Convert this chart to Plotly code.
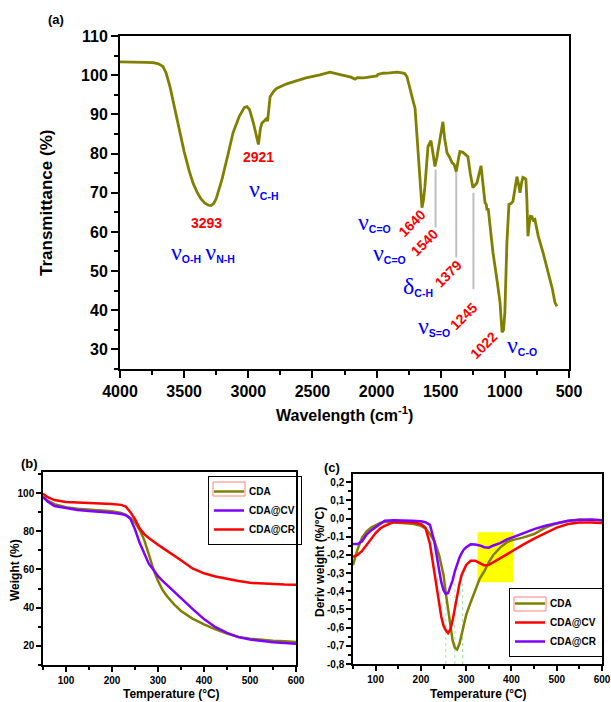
import plotly.graph_objects as go

# ---------------- data ----------------
# (a) FTIR spectrum
ftir_wn = [4000, 3900, 3800, 3743, 3700, 3665, 3640, 3610, 3570, 3532, 3500, 3460, 3430, 3400, 3370, 3340,
           3310, 3290, 3270, 3250, 3230, 3205, 3160, 3119, 3070, 3030, 3010, 2990, 2960, 2945, 2921, 2905,
           2893, 2870, 2854, 2850, 2840, 2830, 2800, 2776, 2700, 2651, 2550, 2441, 2363, 2300, 2200, 2168,
           2150, 2100, 2050, 1997, 1990, 1950, 1900, 1841, 1800, 1779, 1763, 1740, 1716, 1700, 1685, 1662,
           1646, 1635, 1623, 1599, 1576, 1560, 1545, 1530, 1506, 1483, 1470, 1451, 1430, 1412, 1395, 1379,
           1360, 1350, 1327, 1310, 1288, 1270, 1249, 1230, 1217, 1186, 1170, 1155, 1145, 1139, 1130, 1124,
           1093, 1062, 1038, 1022, 1010, 1000, 984, 968, 950, 937, 920, 906, 895, 882, 870, 859, 845, 836,
           828, 820, 810, 800, 789, 778, 766, 740, 703, 680, 649, 630, 610, 594]
ftir_t = [103.4, 103.4, 103.3, 103.2, 102.9, 102.2, 100.5, 97.0, 91.0, 85.3, 80.5, 75.5, 72.4, 70.2, 68.5, 67.4,
          66.8, 66.7, 67.2, 68.5, 70.5, 73.4, 79.5, 85.3, 89.5, 91.8, 92.0, 91.2, 87.8, 85.5, 82.3, 86.5,
          87.8, 88.5, 89.1, 88.2, 91.0, 94.5, 96.0, 96.7, 97.8, 98.3, 99.3, 100.1, 100.8, 100.3, 99.5, 99.0,
          99.4, 99.3, 99.5, 99.8, 100.2, 100.5, 100.6, 100.8, 100.6, 100.4, 99.6, 96.3, 93.5, 91.5, 84.0, 71.6,
          66.2, 68.0, 71.6, 81.8, 83.3, 80.0, 76.7, 79.0, 83.5, 88.1, 84.0, 80.2, 79.0, 77.7, 77.2, 75.4,
          79.0, 80.5, 80.3, 79.8, 79.2, 75.0, 71.3, 72.0, 72.6, 76.9, 72.0, 67.5, 67.0, 65.5, 66.0, 63.9,
          54.8, 47.9, 42.1, 34.4, 35.0, 39.5, 57.3, 67.0, 67.3, 67.8, 71.0, 74.1, 72.5, 70.0, 72.5, 73.9, 73.7, 73.4,
          68.0, 58.9, 62.0, 64.0, 63.9, 63.0, 63.2, 59.0, 54.8, 52.0, 47.9, 45.5, 42.0, 41.0]
ftir_marks = [1540, 1379, 1245]          # grey guide lines
ftir_marks_top = [75.9, 75.4, 70.0]
ftir_marks_bot = [61.1, 53.5, 45.4]

# (b) TGA
tga_T = [50, 60, 75, 100, 125, 150, 175, 200, 220, 230, 240, 250, 260, 270, 280, 290, 300, 310, 320, 335,
         350, 375, 400, 425, 450, 475, 500, 525, 550, 575, 600]
tga_cda = [98.0, 96.0, 94.2, 92.6, 91.8, 91.3, 90.9, 90.4, 89.5, 88.6, 87.0, 84.5, 80.8, 75.5, 68.0, 60.0,
           54.0, 49.2, 45.8, 41.7, 38.3, 34.3, 31.3, 28.6, 26.4, 24.7, 23.8, 23.1, 22.7, 22.4, 22.1]
tga_cv = [98.0, 95.5, 93.2, 92.0, 91.1, 90.6, 90.2, 89.7, 89.0, 88.4, 86.5, 81.0, 74.0, 68.0, 63.0, 59.8,
          56.5, 54.0, 51.7, 48.5, 45.3, 39.4, 34.0, 29.8, 26.8, 24.6, 23.3, 22.5, 21.9, 21.5, 21.1]
tga_cr = [99.6, 97.8, 96.3, 95.3, 95.0, 94.8, 94.6, 94.3, 93.8, 92.9, 90.0, 86.3, 81.5, 78.5, 76.5, 74.6,
          72.9, 71.3, 69.7, 67.5, 64.8, 60.5, 58.0, 56.3, 55.0, 54.0, 53.0, 52.6, 52.3, 52.1, 52.0]

# (c) DTG
dtg_T = [50, 60, 70, 80, 90, 100, 110, 120, 140, 160, 180, 200, 210, 220, 230, 240, 245, 250, 255, 260, 265,
         270, 275, 280, 285, 290, 295, 300, 310, 320, 330, 340, 350, 360, 375, 390, 400, 425, 450, 475, 500,
         525, 550, 575, 600]
dtg_cda = [-0.256, -0.17, -0.105, -0.07, -0.05, -0.037, -0.024, -0.018, -0.02, -0.024, -0.028, -0.04, -0.055,
           -0.085, -0.125, -0.2, -0.25, -0.31, -0.41, -0.5, -0.59, -0.67, -0.71, -0.72, -0.69, -0.64, -0.58,
           -0.53, -0.46, -0.395, -0.33, -0.29, -0.24, -0.2, -0.16, -0.13, -0.12, -0.105, -0.085, -0.05,
           -0.027, -0.013, -0.005, -0.008, -0.01]
dtg_red = [-0.21, -0.2, -0.178, -0.145, -0.11, -0.08, -0.055, -0.04, -0.02, -0.018, -0.02, -0.03, -0.05,
           -0.14, -0.3, -0.47, -0.54, -0.59, -0.615, -0.63, -0.61, -0.56, -0.49, -0.42, -0.36, -0.31, -0.28,
           -0.255, -0.232, -0.232, -0.245, -0.258, -0.255, -0.24, -0.22, -0.195, -0.178, -0.145, -0.11, -0.08,
           -0.05, -0.03, -0.022, -0.022, -0.024]
dtg_purple = [-0.14, -0.14, -0.125, -0.088, -0.065, -0.047, -0.025, -0.012, -0.01, -0.01, -0.012, -0.015,
              -0.02, -0.035, -0.13, -0.28, -0.35, -0.395, -0.415, -0.41, -0.38, -0.34, -0.29, -0.25, -0.215,
              -0.19, -0.17, -0.158, -0.142, -0.143, -0.148, -0.158, -0.16, -0.148, -0.135, -0.115, -0.105,
              -0.08, -0.058, -0.04, -0.025, -0.012, -0.008, -0.005, -0.01]
dtg_peaks = [255, 275, 292]
dtg_yticks = [-0.8, -0.7, -0.6, -0.5, -0.4, -0.3, -0.2, -0.1, 0.0, 0.1, 0.2]
dtg_yticktext = ["-0,8", "-0,7", "-0,6", "-0,5", "-0,4", "-0,3", "-0,2", "-0,1", "0,0", "0,1", "0,2"]

OLIVE = "#808000"
PURPLE = "#8000FF"
RED = "#FF0000"
BLUE = "#0000FF"
FONT = "Arial, 'Liberation Sans', sans-serif"
W, H = 611, 702

fig = go.Figure()

fig.add_trace(go.Scatter(x=ftir_wn, y=ftir_t, mode="lines", line=dict(color=OLIVE, width=2.8),
                         xaxis="x", yaxis="y", showlegend=False))

fig.add_trace(go.Scatter(x=tga_T, y=tga_cda, mode="lines", name="CDA", line=dict(color=OLIVE, width=2.5),
                         xaxis="x2", yaxis="y2", legend="legend"))
fig.add_trace(go.Scatter(x=tga_T, y=tga_cv, mode="lines", name="CDA@CV", line=dict(color=PURPLE, width=2.5),
                         xaxis="x2", yaxis="y2", legend="legend"))
fig.add_trace(go.Scatter(x=tga_T, y=tga_cr, mode="lines", name="CDA@CR", line=dict(color=RED, width=2.5),
                         xaxis="x2", yaxis="y2", legend="legend"))

fig.add_trace(go.Scatter(x=dtg_T, y=dtg_cda, mode="lines", name="CDA", line=dict(color=OLIVE, width=2.5),
                         xaxis="x3", yaxis="y3", legend="legend2"))
fig.add_trace(go.Scatter(x=dtg_T, y=dtg_red, mode="lines", name="CDA@CV", line=dict(color=RED, width=2.5),
                         xaxis="x3", yaxis="y3", legend="legend2"))
fig.add_trace(go.Scatter(x=dtg_T, y=dtg_purple, mode="lines", name="CDA@CR", line=dict(color=PURPLE, width=2.5),
                         xaxis="x3", yaxis="y3", legend="legend2"))

def px(x):
    return x / W

def py(y):
    return 1 - y / H

def axis_common(lw, tl, fs):
    return dict(showline=True, linecolor="black", linewidth=lw, mirror=True, ticks="outside",
                ticklen=tl, tickwidth=lw, tickcolor="black", showgrid=False, zeroline=False,
                automargin=False,
                tickfont=dict(family=FONT, size=fs, color="black", weight="bold"))

shapes = []
for xm, yt, yb in zip(ftir_marks, ftir_marks_top, ftir_marks_bot):
    shapes.append(dict(type="line", xref="x", yref="y", x0=xm, x1=xm, y0=yb, y1=yt,
                       line=dict(color="#c0c0c0", width=2), layer="below"))
shapes.append(dict(type="rect", xref="x3", yref="y3", x0=325, x1=405, y0=-0.35, y1=-0.075,
                   fillcolor="#FFFF00", line=dict(width=0), layer="below"))
for xp in dtg_peaks:
    shapes.append(dict(type="line", xref="x3", yref="y3", x0=xp, x1=xp, y0=-0.8, y1=-0.36,
                       line=dict(color="rgba(120,220,120,0.7)", width=1, dash="dot"), layer="below"))
# red outline artefact around the first legend swatch
shapes.append(dict(type="rect", xref="paper", yref="paper", x0=px(213), x1=px(245), y0=py(496), y1=py(482),
                   line=dict(color="#FF8080", width=1)))
shapes.append(dict(type="rect", xref="paper", yref="paper", x0=px(514), x1=px(546), y0=py(611), y1=py(597),
                   line=dict(color="#FF8080", width=1)))

NU = "<span style=\"font-family:'Liberation Serif';font-size:24px\">ν</span>"
DELTA = "<span style=\"font-family:'Liberation Serif';font-size:24px\">δ</span>"

def ann_red(x, y, text, angle=0):
    return dict(x=x, y=y, xref="x", yref="y", text="<b>%s</b>" % text, showarrow=False, textangle=angle,
                font=dict(family=FONT, size=14, color=RED), xanchor="center", yanchor="middle")

def ann_blue(x, y, sym, sub):
    return dict(x=x, y=y, xref="x", yref="y", text="%s<sub><b>%s</b></sub>" % (sym, sub), showarrow=False,
                font=dict(family=FONT, size=15, color=BLUE), xanchor="center", yanchor="middle")

annotations = [
    ann_red(2924, 79.2, "2921"),
    ann_blue(2878, 71.0, NU, "C-H"),
    ann_red(3322, 62.4, "3293"),
    dict(x=3353, y=54.8, xref="x", yref="y", showarrow=False,
         text="%s<sub><b>O-H</b></sub> %s<sub><b>N-H</b></sub>" % (NU, NU),
         font=dict(family=FONT, size=15, color=BLUE), xanchor="center", yanchor="middle"),
    ann_red(1724, 62.4, "1640", -45),
    ann_blue(2020, 62.5, NU, "C=O"),
    ann_red(1623, 57.3, "1540", -45),
    ann_blue(1903, 54.6, NU, "C=O"),
    ann_red(1443, 49.2, "1379", -45),
    ann_blue(1677, 46.2, DELTA, "C-H"),
    ann_red(1319, 38.5, "1245", -45),
    ann_blue(1553, 36.0, NU, "S=O"),
    ann_red(1163, 31.1, "1022", -45),
    ann_blue(867, 31.2, NU, "C-O"),
]

def paper_text(x, y, text, size, angle=0):
    return dict(x=px(x), y=py(y), xref="paper", yref="paper", text="<b>%s</b>" % text, showarrow=False,
                textangle=angle, font=dict(family=FONT, size=size, color="black"),
                xanchor="center", yanchor="middle")

annotations += [
    paper_text(56, 19, "(a)", 13),
    paper_text(47, 203, "Transmittance (%)", 17, -90),
    paper_text(344, 414, "Wavelength (cm<sup>-1</sup>)", 16),
    paper_text(30, 463, "(b)", 13),
    paper_text(15, 570, "Weight (%)", 12, -90),
    paper_text(171, 694, "Temperature (°C)", 12),
    paper_text(332, 467, "(c)", 13),
    paper_text(320, 562, "Deriv weight (%/°C)", 12, -90),
    paper_text(478, 694, "Temperature (°C)", 12),
]

ax_a_x = axis_common(2, 7, 16)
ax_a_x.update(domain=[px(120), px(569)], range=[4000, 500], tickmode="linear", tick0=500, dtick=500,
              anchor="y", minor=dict(ticks="outside", ticklen=4, dtick=250, tick0=500, tickcolor="black", tickwidth=2))
ax_a_y = axis_common(2, 7, 16)
ax_a_y.update(domain=[py(369), py(36)], range=[25, 110.01], tickmode="linear", tick0=30, dtick=10,
              anchor="x", minor=dict(ticks="outside", ticklen=4, dtick=5, tick0=25, tickcolor="black", tickwidth=2))

ax_b_x = axis_common(1.5, 5, 10)
ax_b_x.update(domain=[px(43), px(296)], range=[50, 600], tickmode="linear", tick0=100, dtick=100,
              anchor="y2", minor=dict(ticks="outside", ticklen=3, dtick=50, tick0=50, tickcolor="black", tickwidth=1.5))
ax_b_y = axis_common(1.5, 5, 10)
ax_b_y.update(domain=[py(665), py(472)], range=[10, 111], tickmode="linear", tick0=20, dtick=20,
              anchor="x2",
              minor=dict(ticks="outside", ticklen=3, dtick=10, tick0=10, tickcolor="black", tickwidth=1.5))

ax_c_x = axis_common(1.5, 5, 10)
ax_c_x.update(domain=[px(353), px(602)], range=[50, 600], tickmode="linear", tick0=100, dtick=100,
              anchor="y3", minor=dict(ticks="outside", ticklen=3, dtick=50, tick0=50, tickcolor="black", tickwidth=1.5))
ax_c_y = axis_common(1.5, 5, 10)
ax_c_y.update(domain=[py(664), py(474)], range=[-0.8, 0.245], tickmode="array", tickvals=dtg_yticks,
              ticktext=dtg_yticktext, anchor="x3",
              minor=dict(ticks="outside", ticklen=3, dtick=0.05, tick0=-0.8, tickcolor="black", tickwidth=1.5))

legend_font = dict(family=FONT, size=10, color="black", weight="bold")

fig.update_layout(
    width=W, height=H, margin=dict(l=0, r=0, t=0, b=0, pad=0),
    paper_bgcolor="white", plot_bgcolor="white",
    xaxis=ax_a_x, yaxis=ax_a_y, xaxis2=ax_b_x, yaxis2=ax_b_y, xaxis3=ax_c_x, yaxis3=ax_c_y,
    shapes=shapes, annotations=annotations,
    legend=dict(x=px(208), y=py(476), xanchor="left", yanchor="top", bgcolor="rgba(255,255,255,0)",
                bordercolor="black", borderwidth=1, font=legend_font, itemwidth=30,
                tracegroupgap=0),
    legend2=dict(x=px(509), y=py(657), xanchor="left", yanchor="bottom", bgcolor="rgba(255,255,255,0)",
                 bordercolor="black", borderwidth=1, font=legend_font, itemwidth=30,
                 tracegroupgap=0),
)

fig.write_html("out.html")
